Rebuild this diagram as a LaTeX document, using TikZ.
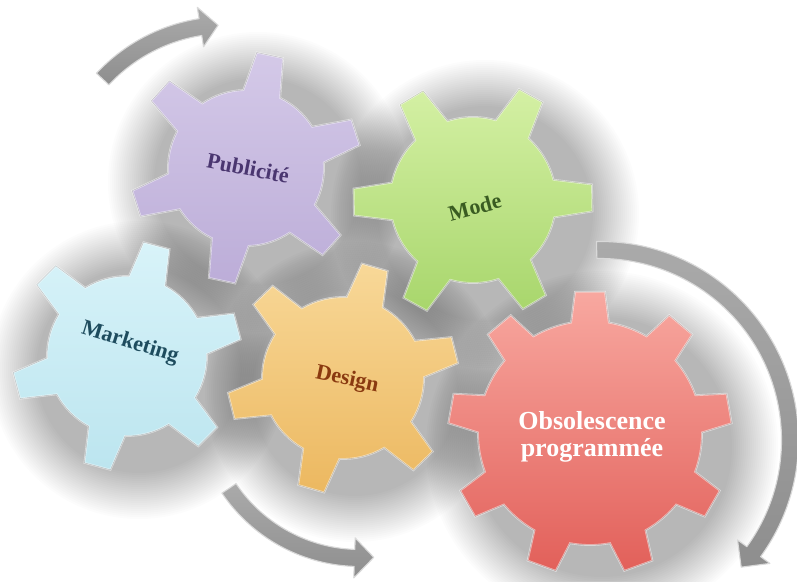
\documentclass[tikz,border=0pt]{standalone}
\usepackage{fontspec}
\setmainfont{Liberation Serif}
\definecolor{pubA}{HTML}{D4C9E8}
\definecolor{pubB}{HTML}{BCADD8}
\definecolor{pubT}{HTML}{4A3670}
\definecolor{modA}{HTML}{D4F0A4}
\definecolor{modB}{HTML}{A8D66C}
\definecolor{modT}{HTML}{3A5C22}
\definecolor{mktA}{HTML}{D8F3F9}
\definecolor{mktB}{HTML}{BCE5EF}
\definecolor{mktT}{HTML}{1E4C5E}
\definecolor{desA}{HTML}{F8D898}
\definecolor{desB}{HTML}{ECB860}
\definecolor{desT}{HTML}{8A3A10}
\definecolor{obsA}{HTML}{F8A8A0}
\definecolor{obsB}{HTML}{E2605A}
\definecolor{arrG}{HTML}{8E8E8E}
\newcommand\gearpath[9]{%
  \pgfmathsetmacro\gdb{#7/#4*180/pi}%
  \pgfmathsetmacro\gdt{#8/#5*180/pi}%
  \pgfmathsetmacro\gst{360/#3}%
  \path[shift={(#1,#2)},#9] ({#6+\gdb}:#4)
    \foreach \i in {1,...,#3}{
      arc[start angle={#6+(\i-1)*\gst+\gdb}, end angle={#6+\i*\gst-\gdb}, radius=#4]
      -- ({#6+\i*\gst-\gdt}:#5) -- ({#6+\i*\gst+\gdt}:#5) -- ({#6+\i*\gst+\gdb}:#4)
    } -- cycle;
}
\newcommand\gear[9]{%
  \gearpath{#1}{#2}{#3}{#4}{#5}{#6}{#7}{#8}{#9}%
  \gearpath{#1}{#2}{#3}{#4}{#5}{#6}{#7}{#8}{draw=white,opacity=0.55,line width=1.8}%
  \gearpath{#1}{#2}{#3}{#4}{#5}{#6}{#7}{#8}{draw=black,opacity=0.18,line width=0.5}%
}
\newcommand\bentarrow[6]{%
  \path[shift={(#1,#2)},arrowbody]
    ({#4}:{#3+8.5}) arc[start angle={#4}, end angle={#5-#6}, radius={#3+8.5}]
    -- ({#5-#6}:{#3+20}) -- ({#5}:{#3}) -- ({#5-#6}:{#3-20}) -- ({#5-#6}:{#3-8.5})
    arc[start angle={#5-#6}, end angle={#4}, radius={#3-8.5}] -- cycle;
}
\begin{document}
\begin{tikzpicture}[x=1pt,y=1pt,
  arrowbody/.style={top color=arrG!75, bottom color=arrG, draw=white!85!black, line width=1.1, line join=round},
  lbl/.style={font=\bfseries\fontsize{22}{24}\selectfont, inner sep=0pt}]
\useasboundingbox (0,0) rectangle (797,581);
\fill[white] (0,0) rectangle (797,581);
% soft shadows
\foreach \X/\Y/\Ro in {246/413/116, 473/381/120, 127/225/115, 343/203/116, 590/148/142}{
  \foreach \k in {1,...,24}{
    \fill[black,opacity=0.012] (\X+12,\Y-14) circle ({\Ro+36-2*\k});
  }
}
% curved arrows
\bentarrow{227}{386}{170}{137}{93}{-6}
\bentarrow{360}{181}{158}{-146}{-85}{7}
\bentarrow{600}{141}{190}{91}{-42}{-6}
% gears
\gear{246}{413}{6}{78}{116}{78}{19}{13.5}{top color=pubA,bottom color=pubB}
\gear{473}{381}{6}{83}{120}{1}{19}{13.5}{top color=modA,bottom color=modB}
\gear{127}{225}{6}{80}{115}{75}{19}{13.5}{top color=mktA,bottom color=mktB}
\gear{343}{203}{6}{81}{116}{74}{19}{13.5}{top color=desA,bottom color=desB}
\gear{590}{148}{9}{112}{142}{90}{19}{15}{top color=obsA,bottom color=obsB}
% labels
\node[lbl, text=pubT, rotate=-11] (pub) at (248,413) {Publicité};
\node[lbl, text=modT, rotate=15] (mode) at (475,374) {Mode};
\node[lbl, text=mktT, rotate=-17] (mkt) at (130,238) {Marketing};
\node[lbl, text=desT, rotate=-12] (des) at (347,201) {Design};
\node[lbl, text=white, align=center, font=\bfseries\fontsize{26}{27}\selectfont] (obs) at (592,144) {Obsolescence\\programmée};
\end{tikzpicture}
\end{document}
